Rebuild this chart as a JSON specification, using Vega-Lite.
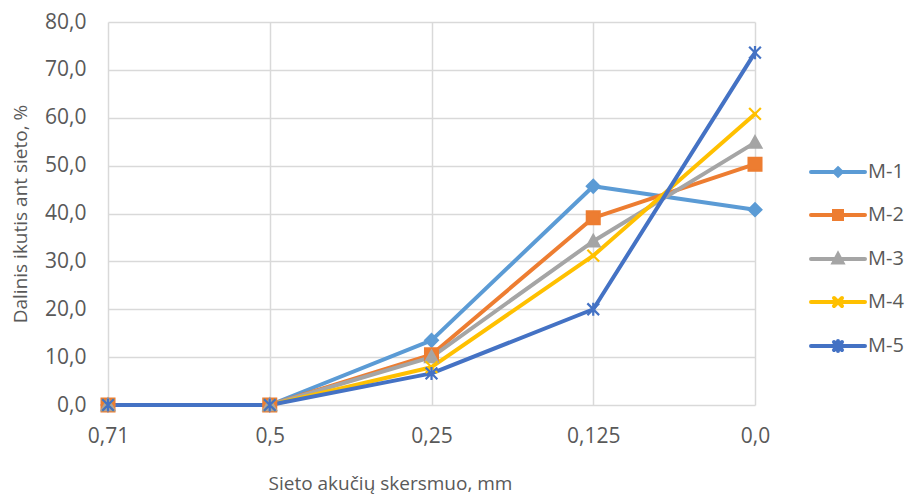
{
  "$schema": "https://vega.github.io/schema/vega-lite/v6.json",
  "width": 647,
  "height": 383,
  "autosize": "none",
  "padding": {"left": 108, "top": 22, "right": 153, "bottom": 90},
  "background": "white",
  "config": {
    "font": "Open Sans",
    "view": {"stroke": null},
    "axis": {
      "labelFont": "Open Sans",
      "titleFont": "Open Sans",
      "labelColor": "#595959",
      "titleColor": "#595959",
      "labelFontSize": 21,
      "titleFontSize": 19,
      "titleFontWeight": "normal",
      "gridColor": "#d9d9d9",
      "gridWidth": 1.5,
      "domain": false,
      "ticks": false
    },
    "legend": {
      "labelFont": "Open Sans",
      "labelColor": "#595959",
      "labelFontSize": 20
    }
  },
  "data": {
    "values": [
      {"sieve": "0,71", "series": "M-1", "value": 0},
      {"sieve": "0,5", "series": "M-1", "value": 0},
      {"sieve": "0,25", "series": "M-1", "value": 13.5},
      {"sieve": "0,125", "series": "M-1", "value": 45.7},
      {"sieve": "0,0", "series": "M-1", "value": 40.8},
      {"sieve": "0,71", "series": "M-2", "value": 0},
      {"sieve": "0,5", "series": "M-2", "value": 0},
      {"sieve": "0,25", "series": "M-2", "value": 10.5},
      {"sieve": "0,125", "series": "M-2", "value": 39.1},
      {"sieve": "0,0", "series": "M-2", "value": 50.3},
      {"sieve": "0,71", "series": "M-3", "value": 0},
      {"sieve": "0,5", "series": "M-3", "value": 0},
      {"sieve": "0,25", "series": "M-3", "value": 10.0},
      {"sieve": "0,125", "series": "M-3", "value": 34.2},
      {"sieve": "0,0", "series": "M-3", "value": 54.8},
      {"sieve": "0,71", "series": "M-4", "value": 0},
      {"sieve": "0,5", "series": "M-4", "value": 0},
      {"sieve": "0,25", "series": "M-4", "value": 7.9},
      {"sieve": "0,125", "series": "M-4", "value": 31.2},
      {"sieve": "0,0", "series": "M-4", "value": 60.8},
      {"sieve": "0,71", "series": "M-5", "value": 0},
      {"sieve": "0,5", "series": "M-5", "value": 0},
      {"sieve": "0,25", "series": "M-5", "value": 6.6},
      {"sieve": "0,125", "series": "M-5", "value": 20.0},
      {"sieve": "0,0", "series": "M-5", "value": 73.6}
    ]
  },
  "encoding": {
    "x": {
      "field": "sieve",
      "type": "ordinal",
      "sort": ["0,71", "0,5", "0,25", "0,125", "0,0"],
      "scale": {"type": "point", "padding": 0},
      "axis": {
        "title": "Sieto akučių skersmuo, mm",
        "labelAngle": 0,
        "labelPadding": 20,
        "titlePadding": 28,
        "titleX": 282,
        "titleAlign": "center",
        "grid": true
      }
    },
    "y": {
      "field": "value",
      "type": "quantitative",
      "scale": {"domain": [0, 80], "nice": false},
      "axis": {
        "title": "Dalinis ikutis ant sieto, %",
        "values": [0, 10, 20, 30, 40, 50, 60, 70, 80],
        "labelExpr": "replace(format(datum.value, '.1f'), '.', ',')",
        "labelPadding": 22,
        "titlePadding": 14
      }
    }
  },
  "layer": [
    {
      "mark": {"type": "line", "strokeWidth": 4, "strokeCap": "round", "strokeJoin": "round"},
      "encoding": {
        "color": {
          "field": "series",
          "type": "nominal",
          "scale": {
            "domain": ["M-1", "M-2", "M-3", "M-4", "M-5"],
            "range": ["#5B9BD5", "#ED7D31", "#A5A5A5", "#FFC000", "#4472C4"]
          },
          "legend": {
            "title": null,
            "orient": "none",
            "legendX": 720,
            "legendY": 140,
            "symbolSize": 100,
            "symbolStrokeWidth": 4,
            "rowPadding": 19,
            "labelOffset": 20,
            "encode": {
              "symbols": {
                "update": {
                  "shape": {
                    "signal": "datum.value === 'M-1' ? 'M-5.4,0L5.4,0M0,-0.7L0.7,0L0,0.7L-0.7,0Z' : datum.value === 'M-2' ? 'M-5.4,0L5.4,0M-0.8,-0.8L0.8,-0.8L0.8,0.8L-0.8,0.8Z' : datum.value === 'M-3' ? 'M-5.4,0L5.4,0M0,-0.9L0.85,0.7L-0.85,0.7Z' : datum.value === 'M-4' ? 'M-5.4,0L5.4,0M-0.8,-0.8L0.8,0.8M-0.8,0.8L0.8,-0.8' : 'M-5.4,0L5.4,0M-0.8,-0.8L0.8,0.8M-0.8,0.8L0.8,-0.8M0,-1L0,1'"
                  },
                  "fill": {"signal": "scale('color', datum.value)"},
                  "stroke": {"signal": "scale('color', datum.value)"},
                  "strokeCap": {"value": "round"}
                }
              }
            }
          }
        },
        "order": {"field": "series"}
      }
    },
    {
      "transform": [{"filter": {"field": "series", "equal": "M-1"}}],
      "mark": {"type": "point", "shape": "diamond", "filled": true, "size": 170, "strokeWidth": 2, "opacity": 1},
      "encoding": {
        "fill": {"field": "series", "type": "nominal", "scale": {"domain": ["M-1", "M-2", "M-3", "M-4", "M-5"], "range": ["#5B9BD5", "#ED7D31", "#A5A5A5", "#FFC000", "#4472C4"]}, "legend": null},
        "stroke": {"field": "series", "type": "nominal", "scale": {"domain": ["M-1", "M-2", "M-3", "M-4", "M-5"], "range": ["#5B9BD5", "#ED7D31", "#A5A5A5", "#FFC000", "#4472C4"]}, "legend": null}
      }
    },
    {
      "transform": [{"filter": {"field": "series", "equal": "M-2"}}],
      "mark": {"type": "point", "shape": "square", "filled": true, "size": 170, "strokeWidth": 2, "opacity": 1},
      "encoding": {
        "fill": {"field": "series", "type": "nominal", "legend": null},
        "stroke": {"field": "series", "type": "nominal", "legend": null}
      }
    },
    {
      "transform": [{"filter": {"field": "series", "equal": "M-3"}}],
      "mark": {"type": "point", "shape": "M0,-1L1,0.8L-1,0.8Z", "filled": true, "size": 170, "strokeWidth": 2, "opacity": 1},
      "encoding": {
        "fill": {"field": "series", "type": "nominal", "legend": null},
        "stroke": {"field": "series", "type": "nominal", "legend": null}
      }
    },
    {
      "transform": [{"filter": {"field": "series", "equal": "M-4"}}],
      "mark": {"type": "point", "shape": "M-0.9,-0.9L0.9,0.9M-0.9,0.9L0.9,-0.9", "filled": true, "size": 170, "strokeWidth": 2.2, "opacity": 1},
      "encoding": {
        "fill": {"field": "series", "type": "nominal", "legend": null},
        "stroke": {"field": "series", "type": "nominal", "legend": null}
      }
    },
    {
      "transform": [{"filter": {"field": "series", "equal": "M-5"}}],
      "mark": {"type": "point", "shape": "M-0.9,-0.9L0.9,0.9M-0.9,0.9L0.9,-0.9M0,-1L0,1", "filled": true, "size": 170, "strokeWidth": 2.2, "opacity": 1},
      "encoding": {
        "fill": {"field": "series", "type": "nominal", "legend": null},
        "stroke": {"field": "series", "type": "nominal", "legend": null}
      }
    }
  ]
}
